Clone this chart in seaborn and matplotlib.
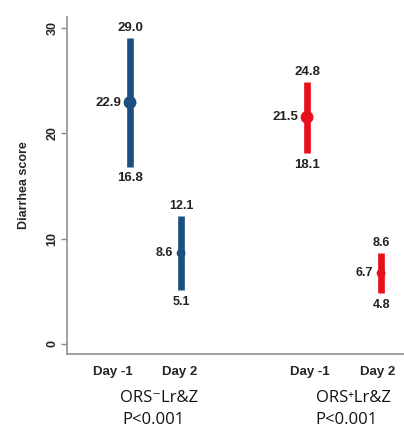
import numpy as np
import pandas as pd
import matplotlib
matplotlib.use("Agg")
import matplotlib.pyplot as plt
import seaborn as sns

# values
groups = ["ORS-", "ORS-", "ORS+", "ORS+"]
days = ["Day -1", "Day 2", "Day -1", "Day 2"]
means = [22.9, 8.6, 21.5, 6.7]
lower = [16.8, 5.1, 18.1, 4.8]
upper = [29.0, 12.1, 24.8, 8.6]
group_labels = ["ORS\u207bLr&Z", "ORS\u207aLr&Z"]
p_labels = ["P<0.001", "P<0.001"]

# layout positions (not data)
x_pos = [1.0, 2.0, 4.47, 5.92]
tick_pos = [0.67, 1.98, 4.53, 5.86]
colors = {"ORS-": "#1b4f80", "ORS+": "#e8101a"}
sizes = {"Day -1": 85, "Day 2": 40}

df = pd.DataFrame({"group": groups, "day": days, "mean": means,
                   "lo": lower, "hi": upper, "x": x_pos})

sns.set_style("white")
plt.rcParams["font.family"] = ["Liberation Sans", "DejaVu Sans"]

fig = plt.figure(figsize=(4.04, 4.28), dpi=100)
ax = fig.add_axes([0.166, 0.173, 0.834, 0.787])

for _, r in df.iterrows():
    ax.vlines(r["x"], r["lo"], r["hi"], color=colors[r["group"]], lw=4.8, zorder=2)

sns.scatterplot(data=df, x="x", y="mean", hue="group", size="day", sizes=sizes,
                palette=colors, legend=False, ax=ax, linewidth=0, zorder=3)

for _, r in df.iterrows():
    fs = 9.5 if r["day"] == "Day -1" else 9
    ax.annotate(f"{r['hi']:.1f}", (r["x"], r["hi"]), xytext=(0, 3), textcoords="offset points",
                ha="center", va="bottom", fontsize=fs, fontweight="bold", color="#222222")
    ax.annotate(f"{r['lo']:.1f}", (r["x"], r["lo"]), xytext=(0, -4), textcoords="offset points",
                ha="center", va="top", fontsize=fs, fontweight="bold", color="#222222")
    ax.annotate(f"{r['mean']:.1f}", (r["x"], r["mean"]), xytext=(-6, 0), textcoords="offset points",
                ha="right", va="center", fontsize=fs, fontweight="bold", color="#222222")

ax.set_xlim(-0.235, 6.37)
ax.set_ylim(-0.95, 31)
ax.set_yticks([0, 10, 20, 30])
ax.set_yticklabels(["0", "10", "20", "30"], rotation=90, va="center",
                   fontsize=9, fontweight="bold")
ax.tick_params(axis="y", length=4, width=1, color="#888888", pad=2, left=True)
ax.set_xticks(tick_pos)
ax.set_xticklabels(days, fontsize=9.5, fontweight="bold")
ax.tick_params(axis="x", length=0, pad=9)
ax.set_xlabel("")
ax.set_ylabel("Diarrhea score", fontsize=9, fontweight="bold", labelpad=12)

for s in ["top", "right"]:
    ax.spines[s].set_visible(False)
for s in ["left", "bottom"]:
    ax.spines[s].set_color("#999999")
    ax.spines[s].set_linewidth(1.3)

for gx, gl, pl in zip([1.57, 5.37], group_labels, p_labels):
    ax.text(gx, -0.13, gl, transform=ax.get_xaxis_transform(), ha="center", va="center",
            fontsize=12, family=["Open Sans", "DejaVu Sans"], color="#111111")
    ax.text(gx - 0.12, -0.196, pl, transform=ax.get_xaxis_transform(), ha="center", va="center",
            fontsize=12, family=["Open Sans", "DejaVu Sans"], color="#111111")

fig.savefig("out.png", dpi=100)
